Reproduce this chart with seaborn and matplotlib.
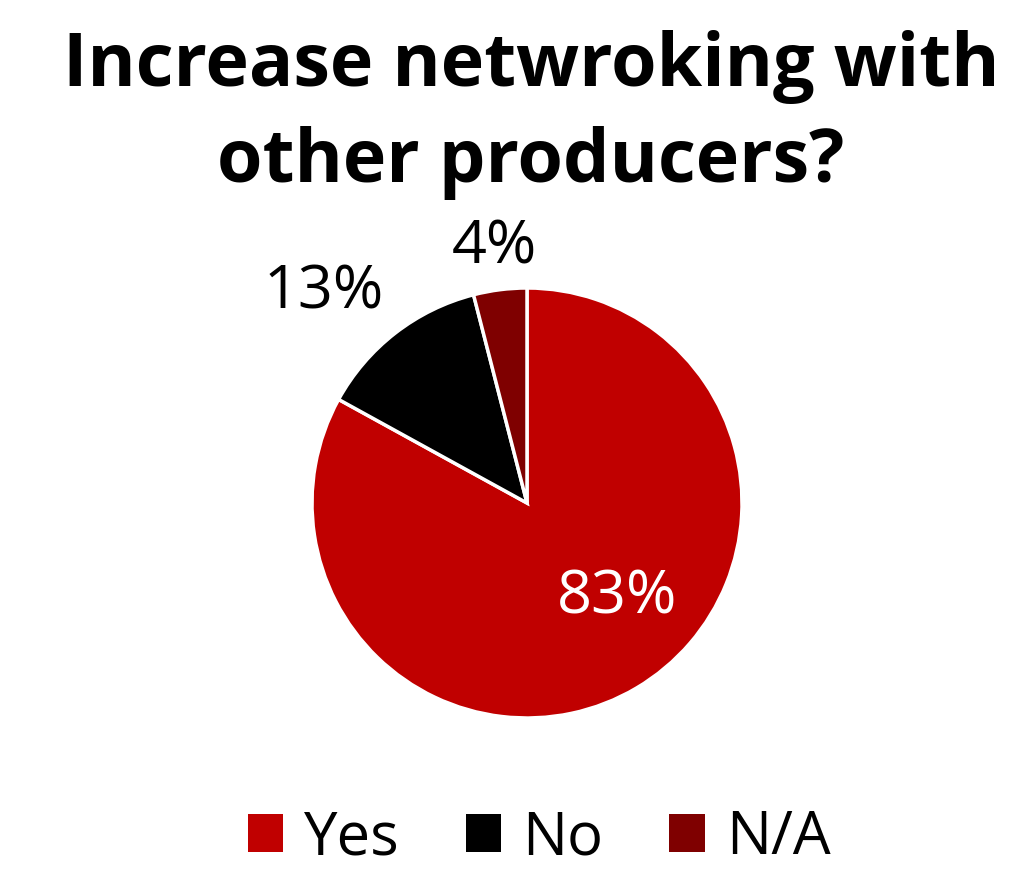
import matplotlib
matplotlib.use("Agg")
import matplotlib.pyplot as plt
from matplotlib.patches import Patch
import seaborn as sns

categories = ["Yes", "No", "N/A"]
shares = [83, 13, 4]
colors = ["#C00000", "#000000", "#7F0000"]
title = "Increase netwroking with\nother producers?"

sns.set_theme(style="white")
plt.rcParams["font.family"] = ["Open Sans", "DejaVu Sans"]
plt.rcParams["text.color"] = "black"

W, H = 1017, 871
fig = plt.figure(figsize=(W / 100, H / 100), dpi=100)
fig.patch.set_facecolor("white")

cx, cy, r = 527, 503, 215
ax = fig.add_axes([(cx - r) / W, (H - cy - r) / H, 2 * r / W, 2 * r / H])

wedges, _ = ax.pie(
    shares,
    colors=colors,
    startangle=90,
    counterclock=False,
    radius=1.0,
    wedgeprops=dict(edgecolor="white", linewidth=2.5),
)
ax.set_xlim(-1, 1)
ax.set_ylim(-1, 1)
ax.set_aspect("equal")
ax.axis("off")

# label placement in pie coordinates (radius = 1)
label_pos = [(0.42, -0.44), (-0.945, 0.98), (-0.15, 1.19)]
label_col = ["white", "black", "black"]
for v, (x, y), c in zip(shares, label_pos, label_col):
    ax.text(x, y, f"{v}%", ha="center", va="center", fontsize=44,
            color=c, clip_on=False)

fig.text(0.522, 0.868, title, ha="center", va="center", fontsize=53,
         fontweight="bold", linespacing=1.4, color="black")

handles = [Patch(facecolor=c, edgecolor="none") for c in colors]
leg = fig.legend(handles, categories, loc="center", bbox_to_anchor=(0.53, 1 - 838 / H),
                 ncol=3, frameon=False, fontsize=43, handlelength=0.6, handleheight=0.6,
                 handletextpad=0.35, columnspacing=1.1)
for t in leg.get_texts():
    t.set_color("black")

fig.savefig("out.png", dpi=100, facecolor="white")
